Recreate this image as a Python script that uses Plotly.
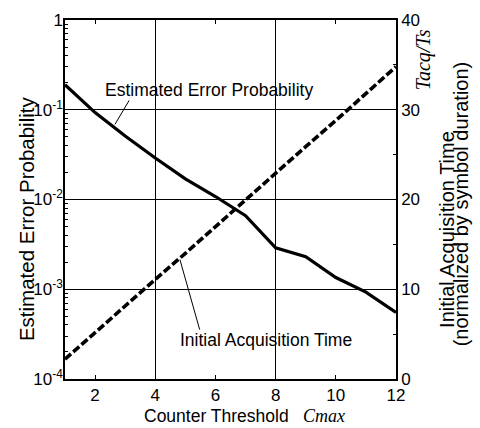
import plotly.graph_objects as go

# Counter threshold values and the two measured quantities
cmax = [1, 2, 3, 4, 5, 6, 7, 8, 9, 10, 11, 12]
error_prob = [0.19, 0.093, 0.051, 0.029, 0.017, 0.0108, 0.0066, 0.0029, 0.0023, 0.00135, 0.00093, 0.00055]
acq_time = [2.2, 5.2, 8.1, 11.1, 14.0, 17.0, 20.0, 22.9, 25.9, 28.8, 31.8, 34.8]

left_tickvals = [1e-4, 1e-3, 1e-2, 1e-1, 1]
left_ticktext = ["10<sup>-4</sup>", "10<sup>-3</sup>", "10<sup>-2</sup>", "10<sup>-1</sup>", "1"]
right_tickvals = [0, 10, 20, 30, 40]
x_tickvals = [2, 4, 6, 8, 10, 12]

# minor ticks inside each decade of the log axis
left_minor = [m * d for d in left_tickvals[:-1] for m in range(2, 10)]

SANS = "Liberation Sans, Arial, Helvetica, sans-serif"
SERIF = "Liberation Serif, Times New Roman, serif"
BLACK = "black"

fig = go.Figure()

fig.add_trace(go.Scatter(
    x=cmax, y=error_prob, mode="lines", yaxis="y",
    line=dict(color=BLACK, width=3.2), showlegend=False,
))
fig.add_trace(go.Scatter(
    x=cmax, y=acq_time, mode="lines", yaxis="y2",
    line=dict(color=BLACK, width=3.6, dash="8px,3px"), showlegend=False,
))

tick_font = dict(family=SANS, size=17, color=BLACK)

fig.update_layout(
    width=480, height=428,
    margin=dict(l=65, r=84, t=11, b=49),
    paper_bgcolor="white", plot_bgcolor="white",
    xaxis=dict(
        range=[1, 12], tickvals=x_tickvals, ticks="inside", ticklen=4,
        tickcolor=BLACK, tickwidth=1, showline=True, linecolor=BLACK,
        linewidth=1.5, mirror="ticks", showgrid=False, zeroline=False,
        tickfont=tick_font,
        minor=dict(tick0=0, dtick=4, showgrid=True, gridcolor=BLACK,
                   gridwidth=1, ticks=""),
    ),
    yaxis=dict(
        type="log", range=[-4, 0], tickvals=left_tickvals,
        ticktext=left_ticktext, ticks="inside", ticklen=5, tickcolor=BLACK,
        showline=True, linecolor=BLACK, linewidth=1.5, showgrid=True,
        gridcolor=BLACK, gridwidth=1, zeroline=False, tickfont=tick_font,
        ticklabelstandoff=-3,
        minor=dict(tickvals=left_minor, ticks="inside", ticklen=3,
                   tickcolor=BLACK, showgrid=False),
    ),
    yaxis2=dict(
        overlaying="y", side="right", range=[0, 40], tickvals=right_tickvals,
        ticks="inside", ticklen=5, tickcolor=BLACK, showline=True,
        linecolor=BLACK, linewidth=1.5, showgrid=False, zeroline=False,
        tickfont=tick_font,
        minor=dict(dtick=5, ticks="inside", ticklen=3, tickcolor=BLACK),
    ),
)


def label(text, x, y, size=17.5, family=SANS, angle=0, xref="paper", yref="paper"):
    fig.add_annotation(x=x, y=y, xref=xref, yref=yref, xanchor="center",
                       yanchor="middle", text=text, textangle=angle,
                       showarrow=False,
                       font=dict(family=family, size=size, color=BLACK))


def leader(x, y, ax, ay):
    fig.add_annotation(x=x, y=y, ax=ax, ay=ay, xref="x", yref="y",
                       axref="x", ayref="y", text="", showarrow=True,
                       arrowhead=0, arrowwidth=1, arrowcolor=BLACK,
                       standoff=0, startstandoff=0)


# Curve labels with leader lines
label("Estimated Error Probability", 5.79, -0.78, xref="x", yref="y")
leader(2.66, -1.163, 3.16, -0.88)
label("Initial Acquisition Time", 7.68, -3.565, xref="x", yref="y")
leader(4.82, -2.67, 5.49, -3.467)

# Axis titles
label("Estimated Error Probability", -0.118, 0.448, size=20.5, angle=-90)
label("Counter Threshold", 0.458, -0.104)
label("<i>Cmax</i>", 0.782, -0.104, size=18, family=SERIF)
label("<i>Tacq/Ts</i>", 1.082, 0.888, size=20, family=SERIF, angle=-90)
label("Initial Acquisition Time", 1.154, 0.418, size=20, angle=-90)
label("(normalized by symbol duration)", 1.199, 0.489, size=20, angle=-90)

fig.write_html("out.html")
